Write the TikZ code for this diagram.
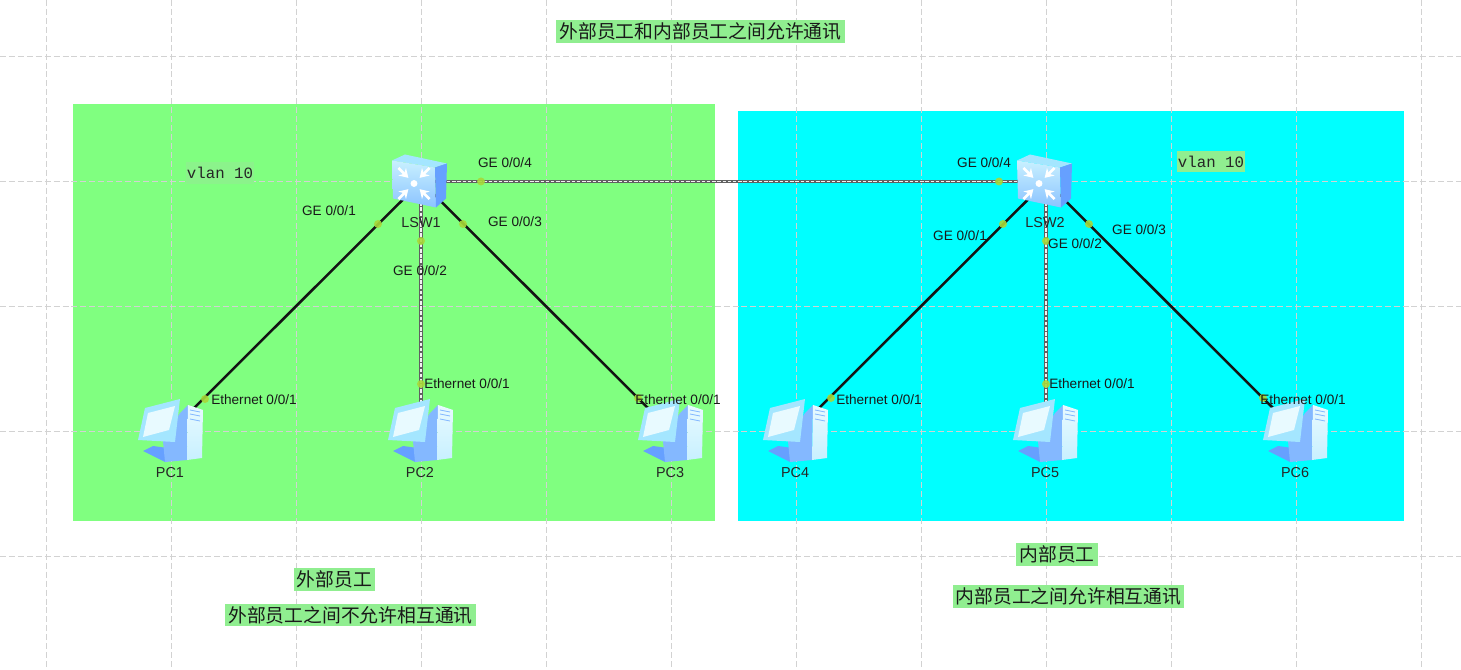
\documentclass[tikz,border=0pt]{standalone}
\usepackage{fontspec}
\setmainfont{Liberation Sans}
\newfontfamily\cjkf{Noto Sans CJK SC}
\newfontfamily\vmono{Liberation Mono}
\usetikzlibrary{arrows.meta}
\definecolor{gridc}{HTML}{D2D2D2}
\definecolor{zoneA}{HTML}{80FF80}
\definecolor{zoneB}{HTML}{00FFFF}
\definecolor{notebg}{HTML}{90EE90}
\definecolor{dotc}{HTML}{A8D838}
\definecolor{icoL}{HTML}{C8F0FF}
\definecolor{icoM}{HTML}{A4E6FF}
\definecolor{icoB}{HTML}{84B8FF}
\definecolor{icoS}{HTML}{66A0FF}
\definecolor{icoT}{HTML}{E8FAFF}
\tikzset{
  x=0.75pt,y=-0.75pt,
  gridline/.style={gridc,line width=0.75pt,dash pattern=on 4.5pt off 2.2pt},
  plainlink/.style={black!92,line width=1.9pt},
  trunklink/.style={draw=black!62,line width=2.8pt,
    postaction={draw=white!90!gray,line width=0.8pt,dash pattern=on 2.6pt off 1.3pt}},
  portdot/.style={circle,fill=dotc,draw=none,minimum size=6pt,inner sep=0pt,opacity=.9},
  portlabel/.style={font=\fontsize{10.2pt}{12pt}\selectfont,text=black!90,inner sep=0pt},
  devname/.style={font=\fontsize{10.8pt}{12pt}\selectfont,text=black!85,inner sep=0pt},
  anchorpt/.style={inner sep=0pt,minimum size=0pt},
  note/.style={fill=notebg,inner sep=0pt,minimum height=17pt,
    font=\cjkf\fontsize{14.1pt}{16pt}\selectfont,text=black!90},
  vlannote/.style={inner sep=0pt,font=\vmono\fontsize{11.8pt}{13pt}\selectfont,text=black!85},
  switchicon/.pic={
    \fill[icoM] (-29,-21) -- (-16,-27) -- (26,-18) -- (14,-14) -- cycle;
    \shade[top color=icoL,bottom color=icoM!85!blue] (-29,-21) -- (14,-14) -- (15,26) -- (-28,17) -- cycle;
    \fill[icoS] (14,-14) -- (26,-18) -- (25,17) -- (15,26) -- cycle;
    \foreach \a in {45,135,225,315}{
      \begin{scope}[shift={(-7,2)},rotate=\a]
        \draw[white,line width=2pt,-{Stealth[length=6.5pt,width=8pt]}] (0,22) -- (0,8);
      \end{scope}}
    \fill[white] (-7,2) circle[radius=2.6pt];
  },
  pcicon/.pic={
    \fill[icoS] (-28,20) -- (-18,15) -- (4,18) -- (4,25) -- (-6,31) -- cycle;
    \fill[icoB] (9,-18) -- (17,-26) -- (16,29) -- (-6,31) -- (-8,10) -- cycle;
    \shade[top color=icoT,bottom color=icoL] (17,-26) -- (32,-21) -- (31,27) -- (16,29) -- cycle;
    \draw[icoB,line width=0.6pt] (19,-21) -- (29,-19) (19,-17) -- (29,-15) (19,-12) -- (29,-10);
    \fill[icoM] (-26,-23) -- (9,-32) -- (4,11) -- (-33,9) -- cycle;
    \fill[icoT] (-23,-18) -- (4,-25) -- (-2,-1) -- (-28,6) -- cycle;
  }
}
\begin{document}
\begin{tikzpicture}
\useasboundingbox (0,0) rectangle (1461,670);
\fill[white] (0,0) rectangle (1461,670);
% zones
\fill[zoneA] (73,104.5) rectangle (715,521);
\fill[zoneB] (738,111.5) rectangle (1404,521);
% grid
\foreach \gx in {46.3,171.3,296.3,421.3,546.3,671.3,796.3,921.3,1046.3,1171.3,1296.3,1421.3}
  \draw[gridline] (\gx,0) -- (\gx,670);
\foreach \gy in {56.5,181.5,306.5,431.5,556.5}
  \draw[gridline] (0,\gy) -- (1461,\gy);
% anchors for devices
\node[anchorpt] (sw1) at (421,181.5) {};
\node[anchorpt] (sw2) at (1046,181.5) {};
\node[anchorpt] (pc1) at (171,431) {};
\node[anchorpt] (pc2) at (421,431) {};
\node[anchorpt] (pc3) at (671,431) {};
\node[anchorpt] (pc4) at (796,431) {};
\node[anchorpt] (pc5) at (1046,431) {};
\node[anchorpt] (pc6) at (1296,431) {};
% links
\draw[plainlink] (sw1.center) -- (pc1.center);
\draw[trunklink] (sw1.center) -- (pc2.center);
\draw[plainlink] (sw1.center) -- (pc3.center);
\draw[plainlink] (sw2.center) -- (pc4.center);
\draw[trunklink] (sw2.center) -- (pc5.center);
\draw[plainlink] (sw2.center) -- (pc6.center);
\draw[trunklink] (sw1.center) -- (sw2.center);
% icons
\foreach \p in {pc1,pc2,pc3,pc4,pc5,pc6} \path (\p) pic {pcicon};
\path (sw1) pic {switchicon};
\path (sw2) pic {switchicon};
% port dots
\node[portdot] (d1) at (378,224) {};
\node[portdot] (d2) at (421,241) {};
\node[portdot] (d3) at (463,224) {};
\node[portdot] (d4) at (481,181.5) {};
\node[portdot] (d5) at (205,399) {};
\node[portdot] (d6) at (421,384) {};
\node[portdot] (d7) at (638,398) {};
\node[portdot] (d8) at (1003,224) {};
\node[portdot] (d9) at (1046,241) {};
\node[portdot] (d10) at (1089,224) {};
\node[portdot] (d11) at (999,181.5) {};
\node[portdot] (d12) at (831,398) {};
\node[portdot] (d13) at (1046,384) {};
\node[portdot] (d14) at (1263,398) {};
% device names
\node[devname] (n1) at (421,223) {LSW1};
\node[devname] (n2) at (1045,223) {LSW2};
\node[devname] (n3) at (170,473) {PC1};
\node[devname] (n4) at (420,473) {PC2};
\node[devname] (n5) at (670,473) {PC3};
\node[devname] (n6) at (795,473) {PC4};
\node[devname] (n7) at (1045,473) {PC5};
\node[devname] (n8) at (1295,473) {PC6};
% port labels
\node[portlabel] (l1) at (329,210.5) {GE 0/0/1};
\node[portlabel] (l2) at (420,270.5) {GE 0/0/2};
\node[portlabel] (l3) at (515,221.5) {GE 0/0/3};
\node[portlabel] (l4) at (505,162.5) {GE 0/0/4};
\node[portlabel] (l5) at (960,235.5) {GE 0/0/1};
\node[portlabel] (l6) at (1075,243.5) {GE 0/0/2};
\node[portlabel] (l7) at (1139,229.5) {GE 0/0/3};
\node[portlabel] (l8) at (984,162.5) {GE 0/0/4};
\node[portlabel,anchor=west] (e1) at (211,400) {Ethernet 0/0/1};
\node[portlabel,anchor=west] (e2) at (424,384) {Ethernet 0/0/1};
\node[portlabel,anchor=west] (e3) at (635,400) {Ethernet 0/0/1};
\node[portlabel,anchor=west] (e4) at (836,400) {Ethernet 0/0/1};
\node[portlabel,anchor=west] (e5) at (1049,384) {Ethernet 0/0/1};
\node[portlabel,anchor=west] (e6) at (1260,400) {Ethernet 0/0/1};
% vlan notes
\node[vlannote,fill=notebg!70!zoneA,minimum width=51pt,minimum height=16pt] (v1) at (220,173) {vlan 10};
\node[vlannote,fill=notebg,minimum width=51pt,minimum height=16pt] (v2) at (1211,161.5) {vlan 10};
% notes
\node[note,minimum width=216.75pt] (t1) at (700.5,31.5) {外部员工和内部员工之间允许通讯};
\node[note,minimum width=61pt] (t2) at (334.5,579.5) {外部员工};
\node[note,minimum width=188pt] (t3) at (350.5,615) {外部员工之间不允许相互通讯};
\node[note,minimum width=61pt] (t4) at (1057,554.5) {内部员工};
\node[note,minimum width=173pt] (t5) at (1068.5,596.5) {内部员工之间允许相互通讯};
\end{tikzpicture}
\end{document}
